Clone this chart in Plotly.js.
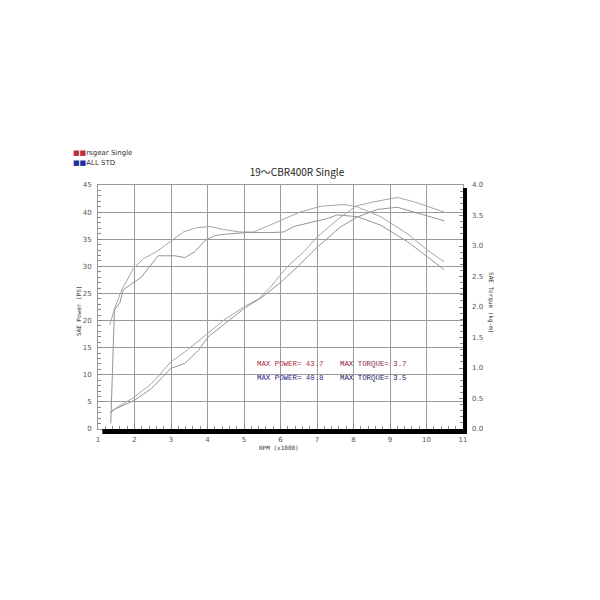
<!DOCTYPE html>
<html>
<head>
<meta charset="utf-8">
<script src="https://cdn.plot.ly/plotly-3.0.1.min.js"></script>
<style>html,body{margin:0;padding:0;background:#fff}#chart{width:600px;height:600px}</style>
</head>
<body>
<div id="chart"></div>
<script>
// RPM (x1000) and values
const rsPowerRpm = [1.33, 1.55, 2.0, 2.47, 3.0, 3.38, 4.0, 4.43, 5.04, 5.4, 5.73, 6.18, 6.64, 7.0, 7.56, 8.06, 8.56, 9.2, 9.66, 10.12, 10.49];
const rsPower    = [3.0, 4.1, 5.9, 8.4, 12.4, 14.2, 17.6, 20.0, 22.7, 24.0, 26.2, 29.9, 32.7, 35.4, 38.6, 41.1, 41.9, 42.7, 41.9, 40.9, 40.0];

const stdPowerRpm = [1.33, 1.41, 2.0, 2.47, 3.0, 3.38, 3.75, 4.02, 4.43, 5.04, 5.45, 6.0, 6.46, 7.0, 7.65, 8.11, 8.66, 9.2, 9.66, 10.12, 10.49];
const stdPower    = [2.9, 3.5, 5.3, 7.5, 11.2, 12.1, 14.5, 17.0, 19.2, 22.4, 24.1, 27.0, 29.9, 33.5, 37.3, 39.1, 40.5, 40.9, 40.0, 39.1, 38.4];

const rsTorqueRpm = [1.32, 1.47, 1.65, 1.97, 2.24, 2.61, 3.02, 3.34, 3.71, 4.08, 4.44, 4.9, 5.27, 5.63, 6.0, 6.55, 7.1, 7.74, 8.11, 8.75, 9.48, 10.03, 10.49];
const rsTorque    = [1.71, 2.00, 2.28, 2.63, 2.79, 2.91, 3.09, 3.23, 3.30, 3.32, 3.27, 3.23, 3.23, 3.32, 3.42, 3.56, 3.65, 3.68, 3.64, 3.48, 3.20, 2.93, 2.74];

const stdTorqueRpm = [1.35, 1.40, 1.45, 1.6, 1.69, 1.92, 2.19, 2.37, 2.65, 2.83, 3.1, 3.38, 3.66, 3.93, 4.2, 4.43, 5.04, 5.73, 6.09, 6.37, 6.91, 7.28, 7.56, 8.11, 8.75, 9.48, 10.03, 10.49];
const stdTorque    = [0.09, 1.07, 1.95, 2.07, 2.28, 2.38, 2.49, 2.63, 2.84, 2.84, 2.84, 2.81, 2.91, 3.09, 3.17, 3.19, 3.22, 3.22, 3.23, 3.32, 3.40, 3.45, 3.51, 3.48, 3.34, 3.07, 2.82, 2.61];

const xTicks = [1,2,3,4,5,6,7,8,9,10,11];
const seriesNames = ['rsgear Single', 'ALL STD'];
const maxLabels = [
  ['MAX POWER= 43.7', 'MAX TORQUE= 3.7'],
  ['MAX POWER= 40.8', 'MAX TORQUE= 3.5']
];
const chartTitle = '19～CBR400R Single';

const rsColor = '#aaa4a8';
const stdColor = '#94949c';

const traces = [
  {x: rsPowerRpm, y: rsPower, name: seriesNames[0], mode: 'lines', line: {color: rsColor, width: 1}},
  {x: stdPowerRpm, y: stdPower, name: seriesNames[1], mode: 'lines', line: {color: stdColor, width: 1}},
  {x: rsTorqueRpm, y: rsTorque, name: seriesNames[0], mode: 'lines', yaxis: 'y2', line: {color: rsColor, width: 1}},
  {x: stdTorqueRpm, y: stdTorque, name: seriesNames[1], mode: 'lines', yaxis: 'y2', line: {color: stdColor, width: 1}}
];

const tickFont = {family: 'DejaVu Sans', size: 7, color: '#555'};
const monoFont = {family: 'Liberation Mono', size: 7.4};
const axisTitleFont = {family: 'DejaVu Sans Mono', size: 6, color: '#333'};

const layout = {
  width: 600, height: 600,
  margin: {l: 98, r: 137, t: 185, b: 171, pad: 0},
  paper_bgcolor: '#fff', plot_bgcolor: '#fff',
  showlegend: false,
  title: {text: chartTitle, x: 0.495, xanchor: 'center', y: 0.713, yanchor: 'middle',
          font: {family: 'Noto Sans CJK JP', size: 10, color: '#222'}},
  xaxis: {range: [1, 11], tickvals: xTicks, showgrid: true, gridcolor: '#9a9a9a', gridwidth: 1,
          zeroline: false, showline: true, linecolor: '#999', mirror: true,
          ticks: 'inside', ticklen: 4, tickcolor: '#888', tickfont: tickFont, ticklabelstandoff: 4,
          minor: {dtick: 0.2, ticks: 'inside', ticklen: 3, tickcolor: '#888', showgrid: false}},
  yaxis: {range: [0, 45], dtick: 5, showgrid: true, gridcolor: '#9a9a9a', gridwidth: 1,
          zeroline: false, showline: true, linecolor: '#999', mirror: true,
          ticks: 'inside', ticklen: 4, tickcolor: '#888', tickfont: tickFont, ticklabelstandoff: 4,
          minor: {dtick: 1, ticks: 'inside', ticklen: 3, tickcolor: '#888', showgrid: false}},
  yaxis2: {range: [0, 4], dtick: 0.5, tickformat: '.1f', overlaying: 'y', side: 'right',
           showgrid: false, zeroline: false, showline: false,
           ticks: 'inside', ticklen: 4, tickcolor: '#888', tickfont: tickFont, ticklabelstandoff: 8,
           minor: {dtick: 0.1, ticks: 'inside', ticklen: 3, tickcolor: '#888', showgrid: false}},
  shapes: [
    {type: 'rect', xref: 'paper', yref: 'paper', x0: 0.012, x1: 1.011, y0: -0.0205, y1: 0,
     fillcolor: '#000', line: {width: 0}, layer: 'above'},
    {type: 'rect', xref: 'paper', yref: 'paper', x0: 1.0, x1: 1.011, y0: -0.0205, y1: 0.988,
     fillcolor: '#000', line: {width: 0}, layer: 'above'}
  ],
  annotations: [
    {xref: 'paper', yref: 'paper', x: -0.073, y: 1.131, xanchor: 'left', yanchor: 'middle', showarrow: false,
     text: '<span style="color:#c0303c">■■</span>' + seriesNames[0], font: {family: 'DejaVu Sans', size: 7, color: '#333'}},
    {xref: 'paper', yref: 'paper', x: -0.073, y: 1.09, xanchor: 'left', yanchor: 'middle', showarrow: false,
     text: '<span style="color:#2030a0">■■</span>' + seriesNames[1], font: {family: 'DejaVu Sans', size: 7, color: '#333'}},
    {xref: 'paper', yref: 'paper', x: 0.497, y: -0.074, xanchor: 'center', yanchor: 'middle', showarrow: false,
     text: 'RPM (x1000)', font: axisTitleFont},
    {xref: 'paper', yref: 'paper', x: -0.055, y: 0.487, xanchor: 'center', yanchor: 'middle', showarrow: false, textangle: -90,
     text: 'SAE Power (PS)', font: axisTitleFont},
    {xref: 'paper', yref: 'paper', x: 1.077, y: 0.52, xanchor: 'center', yanchor: 'middle', showarrow: false, textangle: 90,
     text: 'SAE Torque (kg-m)', font: axisTitleFont},
    {xref: 'paper', yref: 'paper', x: 0.430, y: 0.266, xanchor: 'left', yanchor: 'middle', showarrow: false,
     text: maxLabels[0][0], font: Object.assign({}, monoFont, {color: '#b0304a'})},
    {xref: 'paper', yref: 'paper', x: 0.658, y: 0.266, xanchor: 'left', yanchor: 'middle', showarrow: false,
     text: maxLabels[0][1], font: Object.assign({}, monoFont, {color: '#8a2a4a'})},
    {xref: 'paper', yref: 'paper', x: 0.430, y: 0.209, xanchor: 'left', yanchor: 'middle', showarrow: false,
     text: maxLabels[1][0], font: Object.assign({}, monoFont, {color: '#2a2a8a'})},
    {xref: 'paper', yref: 'paper', x: 0.658, y: 0.209, xanchor: 'left', yanchor: 'middle', showarrow: false,
     text: maxLabels[1][1], font: Object.assign({}, monoFont, {color: '#222266'})}
  ]
};

Plotly.newPlot('chart', traces, layout, {displayModeBar: false, staticPlot: true});
</script>
</body>
</html>
